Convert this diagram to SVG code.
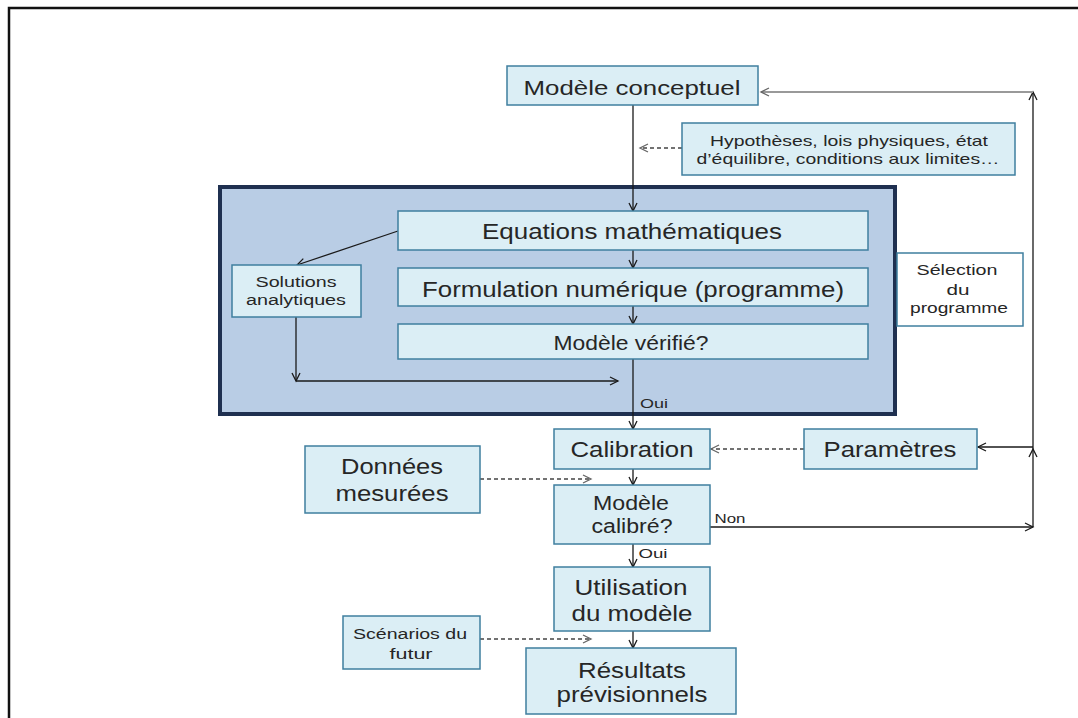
<svg xmlns="http://www.w3.org/2000/svg" width="1078" height="718" viewBox="0 0 1078 718">
<style>
.bx{fill:#dbeef5;stroke:#3f7f9f;stroke-width:1.5}
.t{font-family:"Liberation Sans",Arial,sans-serif;fill:#262626;text-anchor:middle}
.ln{fill:none;stroke:#1a1a1a;stroke-width:1.3}
.ds{fill:none;stroke:#444;stroke-width:1.3;stroke-dasharray:4,3}
.gr{fill:none;stroke:#999;stroke-width:2}
</style>
<defs>
<marker id="ah" markerUnits="userSpaceOnUse" markerWidth="12" markerHeight="12" refX="9" refY="5" orient="auto">
<path d="M1,1 L9,5 L1,9" fill="none" stroke="#1a1a1a" stroke-width="1.3"/>
</marker>
<marker id="ahg" markerUnits="userSpaceOnUse" markerWidth="12" markerHeight="12" refX="9" refY="5" orient="auto">
<path d="M1,1 L9,5 L1,9" fill="none" stroke="#666" stroke-width="1.3"/>
</marker>
</defs>
<rect width="1078" height="718" fill="#ffffff"/>
<path d="M9,718 V8 H1078" fill="none" stroke="#111" stroke-width="2.5"/>

<g id="group-box">
<rect x="220" y="187" width="675" height="227" fill="#b9cde5" stroke="#1f3050" stroke-width="4"/>
</g>

<g id="connectors">
<line class="ln" x1="633" y1="105" x2="633" y2="211" marker-end="url(#ah)"/>
<line class="ln" x1="633" y1="250" x2="633" y2="268" marker-end="url(#ah)"/>
<line class="ln" x1="633" y1="306" x2="633" y2="324" marker-end="url(#ah)"/>
<line class="ln" x1="633" y1="359" x2="633" y2="429" marker-end="url(#ah)"/>
<line class="ln" x1="633" y1="469" x2="633" y2="485" marker-end="url(#ah)"/>
<line class="ln" x1="633" y1="544" x2="633" y2="567" marker-end="url(#ah)"/>
<line class="ln" x1="633" y1="631" x2="633" y2="648" marker-end="url(#ah)"/>
<line class="ln" x1="398" y1="231" x2="297" y2="265" marker-end="url(#ah)"/>
<line class="ln" x1="296" y1="317" x2="296" y2="381" marker-end="url(#ah)"/>
<line class="ln" x1="296" y1="381" x2="618" y2="381" marker-end="url(#ah)"/>
<line class="ds" x1="682" y1="148" x2="640" y2="148" marker-end="url(#ahg)"/>
<line class="ds" x1="804" y1="449" x2="711" y2="449" marker-end="url(#ahg)"/>
<line class="ds" x1="480" y1="479" x2="591" y2="479" marker-end="url(#ahg)"/>
<line class="ds" x1="480" y1="639" x2="591" y2="639" marker-end="url(#ahg)"/>
<line class="ln" x1="710" y1="527" x2="1033" y2="527" marker-end="url(#ah)"/>
<line class="ln" x1="1033" y1="527" x2="1033" y2="449" marker-end="url(#ah)"/>
<line class="ln" x1="1033" y1="449" x2="1033" y2="92" marker-end="url(#ah)"/>
<line class="ln" x1="1033" y1="447" x2="978" y2="447" marker-end="url(#ah)"/>
<line class="gr" x1="1033" y1="92" x2="761" y2="92" marker-end="url(#ahg)"/>
<text class="t" x="654" y="408" font-size="13" textLength="28" lengthAdjust="spacingAndGlyphs">Oui</text>
<text class="t" x="730" y="523" font-size="13" textLength="31" lengthAdjust="spacingAndGlyphs">Non</text>
<text class="t" x="653" y="558" font-size="13" textLength="29" lengthAdjust="spacingAndGlyphs">Oui</text>
</g>

<g id="n-conceptuel">
<rect class="bx" x="507" y="66" width="251" height="39"/>
<text class="t" x="632" y="95" font-size="21" textLength="217" lengthAdjust="spacingAndGlyphs">Modèle conceptuel</text>
</g>
<g id="n-hypotheses">
<rect class="bx" x="682" y="123" width="333" height="52"/>
<text class="t" x="849" y="146" font-size="15" textLength="278" lengthAdjust="spacingAndGlyphs">Hypothèses, lois physiques, état</text>
<text class="t" x="848" y="164" font-size="15" textLength="303" lengthAdjust="spacingAndGlyphs">d’équilibre, conditions aux limites…</text>
</g>
<g id="n-equations">
<rect class="bx" x="398" y="211" width="470" height="39"/>
<text class="t" x="632" y="239" font-size="22" textLength="300" lengthAdjust="spacingAndGlyphs">Equations mathématiques</text>
</g>
<g id="n-formulation">
<rect class="bx" x="398" y="268" width="470" height="38"/>
<text class="t" x="633" y="297" font-size="22" textLength="422" lengthAdjust="spacingAndGlyphs">Formulation numérique (programme)</text>
</g>
<g id="n-verifie">
<rect class="bx" x="398" y="324" width="470" height="35"/>
<text class="t" x="631" y="350" font-size="21" textLength="155" lengthAdjust="spacingAndGlyphs">Modèle vérifié?</text>
</g>
<g id="n-solutions">
<rect class="bx" x="232" y="265" width="129" height="52"/>
<text class="t" x="296" y="287" font-size="14" textLength="81" lengthAdjust="spacingAndGlyphs">Solutions</text>
<text class="t" x="296" y="305" font-size="14" textLength="100" lengthAdjust="spacingAndGlyphs">analytiques</text>
</g>
<g id="n-selection">
<rect class="bx" x="897" y="253" width="126" height="73" fill="#ffffff" style="fill:#ffffff"/>
<text class="t" x="957" y="275" font-size="15" textLength="81" lengthAdjust="spacingAndGlyphs">Sélection</text>
<text class="t" x="958" y="295" font-size="15" textLength="23" lengthAdjust="spacingAndGlyphs">du</text>
<text class="t" x="959" y="313" font-size="15" textLength="98" lengthAdjust="spacingAndGlyphs">programme</text>
</g>
<g id="n-calibration">
<rect class="bx" x="554" y="429" width="156" height="40"/>
<text class="t" x="632" y="457" font-size="22" textLength="123" lengthAdjust="spacingAndGlyphs">Calibration</text>
</g>
<g id="n-parametres">
<rect class="bx" x="804" y="429" width="173" height="40"/>
<text class="t" x="890" y="457" font-size="22" textLength="133" lengthAdjust="spacingAndGlyphs">Paramètres</text>
</g>
<g id="n-donnees">
<rect class="bx" x="305" y="446" width="175" height="67"/>
<text class="t" x="392" y="474" font-size="22" textLength="102" lengthAdjust="spacingAndGlyphs">Données</text>
<text class="t" x="392" y="501" font-size="22" textLength="113" lengthAdjust="spacingAndGlyphs">mesurées</text>
</g>
<g id="n-calibre">
<rect class="bx" x="554" y="485" width="156" height="59"/>
<text class="t" x="631" y="510" font-size="20" textLength="76" lengthAdjust="spacingAndGlyphs">Modèle</text>
<text class="t" x="632" y="533" font-size="20" textLength="81" lengthAdjust="spacingAndGlyphs">calibré?</text>
</g>
<g id="n-utilisation">
<rect class="bx" x="554" y="567" width="156" height="64"/>
<text class="t" x="631" y="595" font-size="22" textLength="113" lengthAdjust="spacingAndGlyphs">Utilisation</text>
<text class="t" x="632" y="621" font-size="22" textLength="121" lengthAdjust="spacingAndGlyphs">du modèle</text>
</g>
<g id="n-scenarios">
<rect class="bx" x="343" y="616" width="137" height="53"/>
<text class="t" x="410" y="639" font-size="14" textLength="114" lengthAdjust="spacingAndGlyphs">Scénarios du</text>
<text class="t" x="411" y="659" font-size="14" textLength="43" lengthAdjust="spacingAndGlyphs">futur</text>
</g>
<g id="n-resultats">
<rect class="bx" x="526" y="648" width="210" height="66"/>
<text class="t" x="632" y="678" font-size="22" textLength="108" lengthAdjust="spacingAndGlyphs">Résultats</text>
<text class="t" x="632" y="702" font-size="22" textLength="151" lengthAdjust="spacingAndGlyphs">prévisionnels</text>
</g>
</svg>
